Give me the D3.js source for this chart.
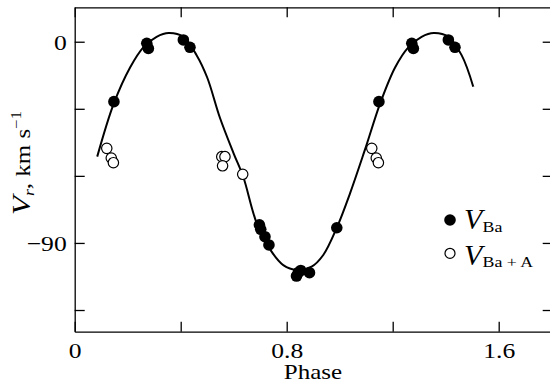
<!DOCTYPE html>
<html>
<head>
<meta charset="utf-8">
<script src="https://cdn.jsdelivr.net/npm/d3@7"></script>
<style>
  html, body { margin: 0; padding: 0; background: #fff; }
  svg { display: block; }
  text { font-family: "Liberation Serif", "Times New Roman", serif; fill: #000; }
</style>
</head>
<body>
<svg id="chart" width="550" height="392"></svg>
<script>
// Radial-velocity observations folded on the orbital phase
const filledPhase = [0.148, 0.272, 0.278, 0.410, 0.435, 0.697, 0.702, 0.718, 0.733, 0.837, 0.844, 0.853, 0.886, 0.989];
const filledV     = [-26.8, -0.7, -3.0, 0.8, -2.5, -81.9, -83.9, -87.2, -90.9, -104.8, -103.2, -102.3, -103.3, -83.2];
const openPhase   = [0.121, 0.138, 0.146, 0.555, 0.567, 0.558, 0.634];
const openV       = [-47.7, -52.0, -54.1, -51.4, -51.4, -55.5, -59.3];

// Orbital solution curve, sampled
const curvePhase = [0.085, 0.148, 0.209, 0.259, 0.309, 0.355, 0.410, 0.460, 0.500, 0.548, 0.600, 0.636, 0.687, 0.743, 0.787, 0.838, 0.894, 0.938, 0.989, 1.039, 1.095, 1.155, 1.209, 1.259, 1.309, 1.355, 1.410, 1.460, 1.504];
const curveV     = [-51.4, -27.5, -11.5, -2.5, 2.2, 3.9, 2.2, -6.0, -16.0, -34.0, -50.0, -60.4, -81.2, -93.9, -99.9, -102.1, -100.6, -95.4, -83.2, -67.8, -48.4, -26.8, -11.5, -2.5, 2.2, 3.9, 2.2, -6.0, -20.1];

// Axis ticks
const xTicks = [0, 0.4, 0.8, 1.2, 1.6];
const xTickLabels = ["0", "", "0.8", "", "1.6"];
const yTicks = [-120, -90, -60, -30, 0];
const yTickLabels = ["", "\u221290", "", "", "0"];

// Phase window in which the folded data are shown
const phaseWindow = [0.09, 1.5];

const svg = d3.select("#chart");
const plotLeft = 74.7, plotRight = 551.7, plotTop = 7.3, plotBottom = 331.7;
const wide = 1.19; // horizontal widening of the serif lettering

const x = d3.scaleLinear().domain([0, 1.8]).range([plotLeft, plotRight]);
const y = d3.scaleLinear().domain([-129.7, 15.4]).range([plotBottom, plotTop]);

function fold(phases, values) {
  const out = [];
  phases.forEach((p, i) => {
    [p, p + 1].forEach(q => {
      if (q >= phaseWindow[0] && q <= phaseWindow[1]) out.push({ p: q, v: values[i] });
    });
  });
  return out;
}
const filledPts = fold(filledPhase, filledV);
const openPts = fold(openPhase, openV);

// Frame with inward ticks
function styleAxis(g) {
  g.selectAll("path.domain").attr("stroke", "#000").attr("stroke-width", 1.3).attr("fill", "none");
  g.selectAll(".tick line").attr("stroke", "#000").attr("stroke-width", 1.3);
}

const xBottom = d3.axisBottom(x).tickValues(xTicks)
  .tickFormat((d, i) => xTickLabels[i]).tickSizeInner(-10).tickSizeOuter(0);
const gxb = svg.append("g").attr("transform", `translate(0,${plotBottom})`).call(xBottom);
gxb.selectAll("text").attr("y", 0).attr("dy", null)
  .attr("transform", `translate(0,26.5) scale(${wide},1)`)
  .style("font-size", "21.5px");
styleAxis(gxb);

const xTop = d3.axisTop(x).tickValues(xTicks).tickFormat("").tickSizeInner(-10).tickSizeOuter(0);
const gxt = svg.append("g").attr("transform", `translate(0,${plotTop})`).call(xTop);
styleAxis(gxt);

const yLeft = d3.axisLeft(y).tickValues(yTicks)
  .tickFormat((d, i) => yTickLabels[i]).tickSizeInner(-10).tickSizeOuter(0);
const gyl = svg.append("g").attr("transform", `translate(${plotLeft},0)`).call(yLeft);
gyl.selectAll("text").attr("x", 0).attr("dy", "0.36em")
  .attr("transform", `translate(-8,0) scale(${wide},1)`)
  .style("font-size", "21.5px");
styleAxis(gyl);

const yRight = d3.axisRight(y).tickValues(yTicks).tickFormat("").tickSizeInner(-9).tickSizeOuter(0);
const gyr = svg.append("g").attr("transform", `translate(${plotRight},0)`).call(yRight);
styleAxis(gyr);

// Model curve
const line = d3.line()
  .x((d, i) => x(curvePhase[i]))
  .y((d, i) => y(curveV[i]))
  .curve(d3.curveCatmullRom.alpha(0.5));
svg.append("path")
  .datum(curvePhase)
  .attr("d", line)
  .attr("fill", "none")
  .attr("stroke", "#000")
  .attr("stroke-width", 2);

// Observations
svg.append("g").selectAll("circle").data(openPts).join("circle")
  .attr("cx", d => x(d.p)).attr("cy", d => y(d.v)).attr("r", 5.2)
  .attr("fill", "#fff").attr("stroke", "#000").attr("stroke-width", 1.2);
svg.append("g").selectAll("circle").data(filledPts).join("circle")
  .attr("cx", d => x(d.p)).attr("cy", d => y(d.v)).attr("r", 5.8)
  .attr("fill", "#000");

// Axis titles
svg.append("text")
  .attr("transform", `translate(313,379) scale(${wide},1)`)
  .attr("text-anchor", "middle")
  .style("font-size", "21px")
  .text("Phase");

const yTitle = svg.append("text")
  .attr("transform", `translate(29.5,215) rotate(-90) scale(${wide},1)`)
  .attr("text-anchor", "start")
  .style("font-size", "21px");
yTitle.append("tspan").style("font-style", "italic").style("font-size", "26px").text("V");
yTitle.append("tspan").style("font-style", "italic").style("font-size", "15px").attr("dy", 4).text("r");
yTitle.append("tspan").attr("dy", -4).text(", km s");
yTitle.append("tspan").style("font-size", "14px").attr("dy", -9).text("\u22121");

// Legend
const legend = svg.append("g");
legend.append("circle").attr("cx", 450).attr("cy", 220).attr("r", 5.8).attr("fill", "#000");
legend.append("circle").attr("cx", 450).attr("cy", 253.3).attr("r", 5.0)
  .attr("fill", "#fff").attr("stroke", "#000").attr("stroke-width", 1.2);

const legendRows = [
  { sym: "V", sub: "Ba", y: 229, subY: 231.5 },
  { sym: "V", sub: "Ba + A", y: 265, subY: 267 }
];
legendRows.forEach(r => {
  legend.append("text").attr("x", 464).attr("y", r.y)
    .style("font-style", "italic").style("font-size", "30px").text(r.sym);
  legend.append("text")
    .attr("transform", `translate(482.5,${r.subY}) scale(${wide},1)`)
    .style("font-size", "15px").text(r.sub);
});
</script>
</body>
</html>
